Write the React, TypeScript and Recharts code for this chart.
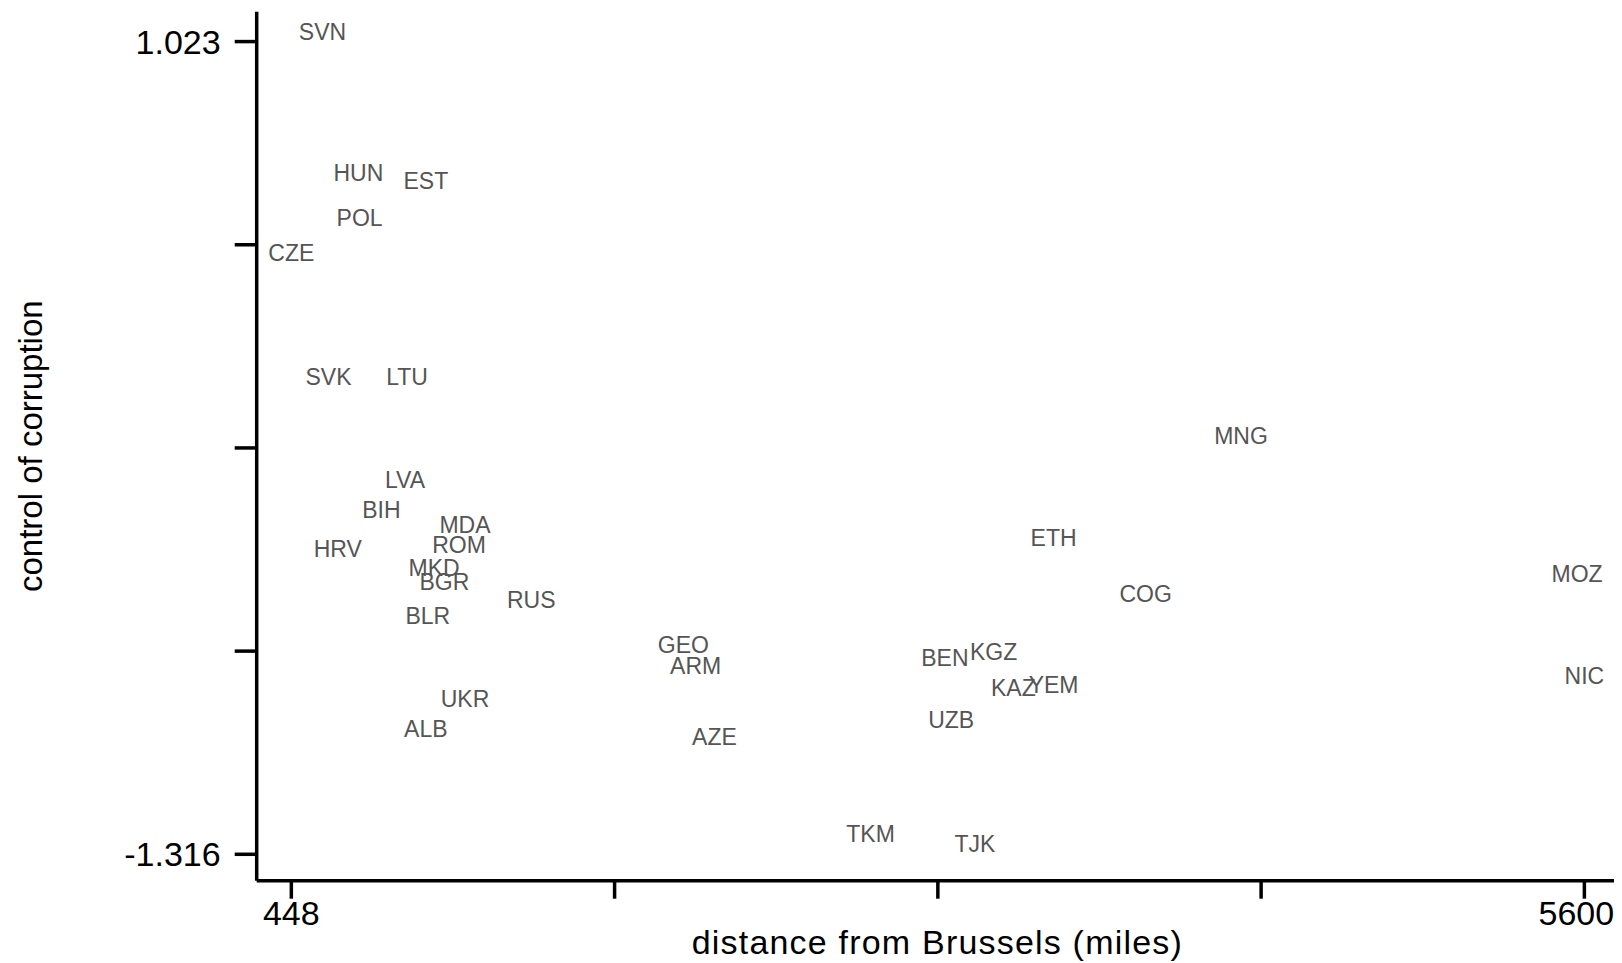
import { ScatterChart, Scatter, XAxis, YAxis, Label } from 'recharts';

const countries = [
  'SVN', 'HUN', 'EST', 'POL', 'CZE', 'SVK', 'LTU', 'LVA', 'BIH', 'MDA', 'ROM',
  'HRV', 'MKD', 'BGR', 'RUS', 'BLR', 'GEO', 'ARM', 'UKR', 'ALB', 'AZE', 'TKM',
  'TJK', 'BEN', 'KGZ', 'KAZ', 'YEM', 'UZB', 'ETH', 'COG', 'MNG', 'MOZ', 'NIC',
];

// miles from Brussels
const distance = [
  572, 715, 984, 720, 448, 596, 909, 901, 807, 1140, 1116,
  633, 1017, 1058, 1404, 992, 2010, 2059, 1140, 984, 2134, 2756,
  3172, 3052, 3246, 3325, 3485, 3077, 3485, 3852, 4232, 5571, 5600,
];

const corruption = [
  1.023, 0.616, 0.594, 0.486, 0.385, 0.028, 0.028, -0.268, -0.354, -0.396, -0.455,
  -0.467, -0.521, -0.562, -0.613, -0.658, -0.741, -0.804, -0.899, -0.983, -1.007, -1.287,
  -1.316, -0.78, -0.762, -0.866, -0.857, -0.959, -0.434, -0.595, -0.142, -0.539, -0.833,
];

const xTicks = [448, 1736, 3024, 4312, 5600];
const yTicks = [-1.316, -0.73125, -0.1465, 0.43825, 1.023];

const points = countries.map((c, i) => ({
  country: c,
  distance: distance[i],
  corruption: corruption[i],
}));

const W = 1614;
const H = 955;
const PLOT_LEFT = 248.7;
const PLOT_RIGHT = 1610;
const PLOT_TOP = 3.7;
const PLOT_BOTTOM = 872.7;

const FONT = '"Liberation Sans", Arial, sans-serif';

const CountryLabel = (props: any) => {
  const { cx, cy, payload } = props;
  return (
    <text
      x={cx}
      y={cy - 2}
      textAnchor="middle"
      fontSize={23}
      fontFamily={FONT}
      fill="#555"
    >
      {payload.country}
    </text>
  );
};

const XTick = (props: any) => {
  const { x, y, payload, index } = props;
  if (index !== 0 && index !== xTicks.length - 1) return <g />;
  const last = index === xTicks.length - 1;
  return (
    <text
      x={last ? x - 8 : x}
      y={y}
      dy="0.71em"
      textAnchor="middle"
      fontSize={34}
      fontFamily={FONT}
      fill="#000"
    >
      {payload.value}
    </text>
  );
};

const YTick = (props: any) => {
  const { x, y, payload, index } = props;
  if (index !== 0 && index !== yTicks.length - 1) return <g />;
  return (
    <text
      x={x}
      y={y}
      dy="0.355em"
      textAnchor="end"
      fontSize={34}
      fontFamily={FONT}
      fill="#000"
    >
      {payload.value.toFixed(3)}
    </text>
  );
};

export default function App() {
  const midX = (PLOT_LEFT + PLOT_RIGHT) / 2;
  const midY = (PLOT_TOP + PLOT_BOTTOM) / 2;
  return (
    <div style={{ width: W, height: H, background: '#fff', fontFamily: FONT }}>
      <ScatterChart
        width={W}
        height={H}
        margin={{ top: PLOT_TOP, right: W - PLOT_RIGHT, bottom: 2.3, left: 8.7 }}
      >
        <XAxis
          type="number"
          dataKey="distance"
          domain={[310, 5734]}
          ticks={xTicks}
          interval={0}
          height={80}
          axisLine={{ stroke: '#000', strokeWidth: 3.5 }}
          tickLine={{ stroke: '#000', strokeWidth: 3.5 }}
          tickSize={18}
          tickMargin={2}
          tick={<XTick />}
        >
          <Label
            content={() => (
              <text
                x={midX}
                y={946}
                textAnchor="middle"
                fontSize={34}
                letterSpacing={1.2}
                fontFamily={FONT}
                fill="#000"
              >
                distance from Brussels (miles)
              </text>
            )}
          />
        </XAxis>
        <YAxis
          type="number"
          dataKey="corruption"
          domain={[-1.392, 1.109]}
          ticks={yTicks}
          interval={0}
          width={240}
          axisLine={{ stroke: '#000', strokeWidth: 3.5 }}
          tickLine={{ stroke: '#000', strokeWidth: 3.5 }}
          tickSize={22}
          tickMargin={14}
          tick={<YTick />}
        >
          <Label
            content={() => (
              <text
                x={34}
                y={midY}
                transform={`rotate(-90, 34, ${midY})`}
                textAnchor="middle"
                fontSize={33}
                fontFamily={FONT}
                fill="#000"
              >
                control of corruption
              </text>
            )}
          />
        </YAxis>
        <Scatter data={points} isAnimationActive={false} shape={<CountryLabel />} />
      </ScatterChart>
    </div>
  );
}
